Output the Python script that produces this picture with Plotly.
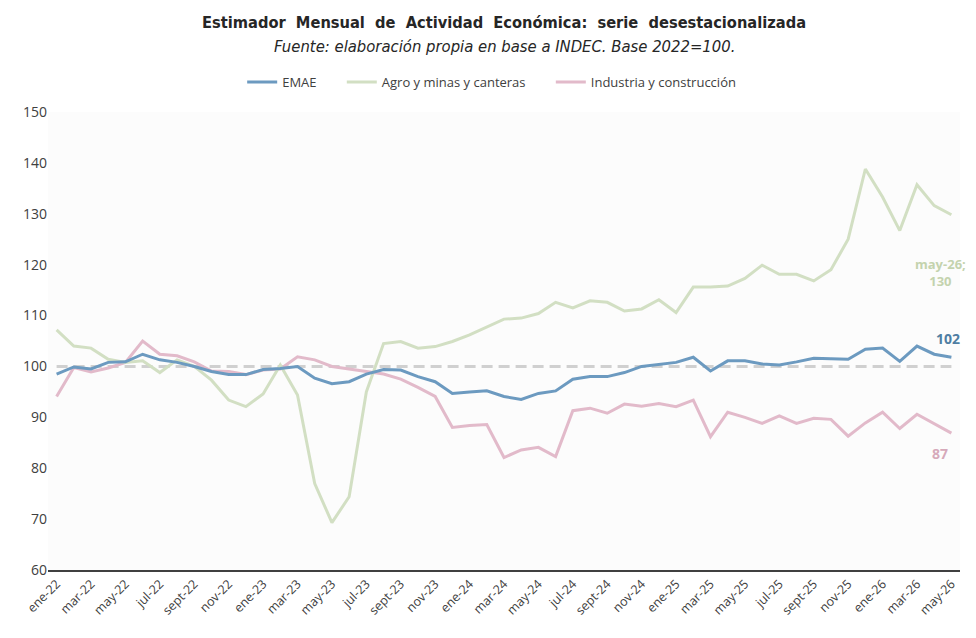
import plotly.graph_objects as go

months = ["ene", "feb", "mar", "abr", "may", "jun", "jul", "ago", "sept", "oct", "nov", "dic"]
categories = [f"{m}-{y}" for y in ["22", "23", "24", "25"] for m in months] + \
             [f"{m}-26" for m in months[:5]]

emae = [98.5, 99.9, 99.5, 100.8, 100.9, 102.4, 101.3, 100.8, 100.0, 99.0, 98.4, 98.4,
        99.4, 99.6, 100.0, 97.7, 96.6, 97.0, 98.5, 99.4, 99.3, 98.0, 97.0, 94.7,
        95.0, 95.2, 94.1, 93.5, 94.7, 95.2, 97.5, 98.0, 98.0, 98.8, 100.0, 100.4,
        100.8, 101.8, 99.1, 101.1, 101.1, 100.5, 100.3, 100.9, 101.6, 101.5, 101.4, 103.4,
        103.6, 101.0, 104.0, 102.4, 101.8]

agro = [107.2, 104.0, 103.6, 101.4, 100.8, 101.1, 98.8, 101.3, 100.0, 97.3, 93.4, 92.1,
        94.6, 100.3, 94.4, 77.0, 69.3, 74.4, 95.0, 104.5, 104.9, 103.6, 103.9, 104.9,
        106.2, 107.7, 109.3, 109.5, 110.4, 112.6, 111.5, 112.9, 112.6, 110.9, 111.3, 113.1,
        110.6, 115.6, 115.6, 115.8, 117.3, 119.9, 118.1, 118.1, 116.8, 119.0, 125.0, 138.8,
        133.3, 126.7, 135.7, 131.6, 129.8]

industria = [94.1, 99.8, 98.9, 99.7, 100.8, 105.0, 102.4, 102.1, 100.9, 99.1, 99.0, 98.4,
             99.3, 99.5, 101.9, 101.3, 100.0, 99.5, 99.0, 98.5, 97.5, 95.9, 94.1, 88.0,
             88.4, 88.6, 82.1, 83.6, 84.1, 82.3, 91.3, 91.8, 90.8, 92.6, 92.2, 92.7,
             92.1, 93.4, 86.2, 91.0, 90.0, 88.8, 90.3, 88.8, 89.8, 89.6, 86.3, 88.9,
             91.0, 87.8, 90.6, 88.8, 86.9]

base = [100] * len(categories)

names = ["EMAE", "Agro y minas y canteras", "Industria y construcción"]
colors = ["#6C9AC0", "#D2DFC3", "#E2BACA"]

title_font = "DejaVu Sans Condensed, sans-serif"
body_font = "Open Sans, sans-serif"

x_idx = list(range(len(categories)))

fig = go.Figure()
fig.add_trace(go.Scatter(x=x_idx, y=base, mode="lines", showlegend=False,
                         line=dict(color="#D0D0D0", width=3, dash="11px,6px"),
                         hoverinfo="skip"))
# draw order: industria, agro, EMAE on top; legend order via legendrank
for rank, name, series, col in [(3, names[2], industria, colors[2]),
                                (2, names[1], agro, colors[1]),
                                (1, names[0], emae, colors[0])]:
    fig.add_trace(go.Scatter(x=x_idx, y=series, mode="lines", name=name + "      ",
                             legendrank=rank, line=dict(color=col, width=3)))

last = len(categories) - 1
fig.add_annotation(x=last, y=emae[-1], xref="x", yref="y", text=f"<b>{round(emae[-1])}</b>",
                   showarrow=False, xshift=-3, yshift=19,
                   font=dict(family=body_font, size=14, color="#4F7EA3"))
fig.add_annotation(x=last, y=industria[-1], xref="x", yref="y", text=f"<b>{round(industria[-1])}</b>",
                   showarrow=False, xshift=-11, yshift=-20,
                   font=dict(family=body_font, size=14, color="#D6A9BA"))
fig.add_annotation(x=last, y=agro[-1], xref="x", yref="y",
                   text=f"<b>{categories[-1]};<br>{round(agro[-1])}</b>",
                   showarrow=False, xshift=-11, yshift=-58,
                   font=dict(family=body_font, size=13, color="#C4D3AE"))

fig.add_annotation(x=0.5, y=1.1965, xref="paper", yref="paper",
                   text="<b>Estimador  Mensual  de  Actividad  Económica:  serie  desestacionalizada</b>",
                   showarrow=False, yanchor="middle",
                   font=dict(family=title_font, size=16.3, color="#262626"))
fig.add_annotation(x=0.5, y=1.142, xref="paper", yref="paper",
                   text="<i>Fuente: elaboración propia en base a INDEC. Base 2022=100.</i>",
                   showarrow=False, yanchor="middle",
                   font=dict(family=title_font, size=16.5, color="#262626"))

fig.update_layout(
    width=976, height=638,
    margin=dict(l=48, r=16, t=112, b=68),
    paper_bgcolor="white",
    plot_bgcolor="#FCFCFC",
    font=dict(family=body_font, color="#404040"),
    legend=dict(orientation="h", x=0.498, xanchor="center", y=1.0655, yanchor="middle",
                font=dict(family=body_font, size=13, color="#404040"),
                traceorder="normal", itemwidth=30),
    xaxis=dict(range=[-0.5, len(categories) - 0.5], tickmode="array",
               tickvals=x_idx[::2], ticktext=categories[::2], tickangle=-45,
               showgrid=False, zeroline=False, showline=True, linecolor="#404040",
               linewidth=1.5, ticks="", tickfont=dict(family=body_font, size=12.5, color="#404040")),
    yaxis=dict(range=[60, 150], dtick=10, showgrid=False, zeroline=False, showline=False,
               ticks="", tickfont=dict(family=body_font, size=14, color="#404040")),
)

fig.write_html("out.html")
